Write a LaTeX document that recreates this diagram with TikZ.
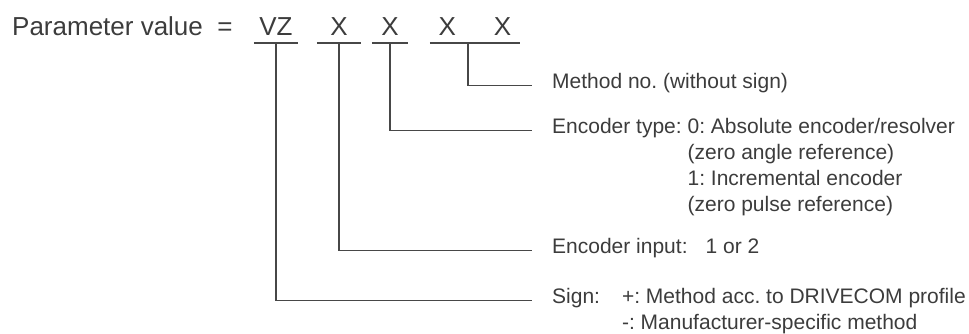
\documentclass[tikz,border=0pt]{standalone}
\usepackage{fontspec}
\setmainfont{Liberation Sans}
\frenchspacing
\definecolor{ink}{HTML}{474747}
\definecolor{txt}{HTML}{3C3C3C}
\begin{document}
\begin{tikzpicture}[x=1pt, y=-1pt,
    big/.style={font=\fontsize{26}{31}\selectfont, text=txt, inner sep=0pt},
    digit/.style={big, anchor=base, inner xsep=0pt, inner ysep=8pt},
    bar/.style={draw=ink, line width=1.6pt},
    lead/.style={draw=ink, line width=1.6pt},
    lbl/.style={font=\fontsize{21}{26}\selectfont, text=txt, inner sep=0pt, anchor=base west}
]
\useasboundingbox (0,0) rectangle (969,333);

% Kopfzeile
\node[big, anchor=base west] (param) at (12,35) {Parameter value};
\node[big, anchor=base] (eq) at (225,35) {=};
\node[digit, minimum width=44pt] (vz) at (276,35) {VZ};
\node[digit, minimum width=44pt] (xa) at (339,35) {X};
\node[digit, minimum width=36pt] (xb) at (390,35) {X};
\node[digit, minimum width=90pt] (xx) at (475,35) {X\hspace{38pt}X};

\draw[bar] (vz.south west) -- (vz.south east);
\draw[bar] (xa.south west) -- (xa.south east);
\draw[bar] (xb.south west) -- (xb.south east);
\draw[bar] (xx.south west) -- (xx.south east);

% Erklaerungen
\node[lbl] (mno) at (552,88) {Method no. (without sign)};
\node[lbl] (etype) at (552,133) {\begin{tabular}[t]{@{}l@{\ }l@{}}Encoder type: & 0: Absolute encoder/resolver\\ & (zero angle reference)\\ & 1: Incremental encoder\\ & (zero pulse reference)\end{tabular}};
\node[lbl] (einput) at (552,253) {Encoder input:\hspace{18pt}1 or 2};
\node[lbl] (sign) at (552,303) {\begin{tabular}[t]{@{}l@{\hspace{22pt}}l@{}}Sign: & +: Method acc. to DRIVECOM profile\\ & -: Manufacturer-specific method\end{tabular}};

% Verbindungen
\draw[lead] ([xshift=-7pt]xx.south) |- ([xshift=-20pt]mno.mid west);
\draw[lead] (xb.south) |- ([xshift=-20pt]etype.mid west);
\draw[lead] (xa.south) |- ([xshift=-20pt]einput.mid west);
\draw[lead] (vz.south) |- ([xshift=-20pt]sign.mid west);
\end{tikzpicture}
\end{document}
